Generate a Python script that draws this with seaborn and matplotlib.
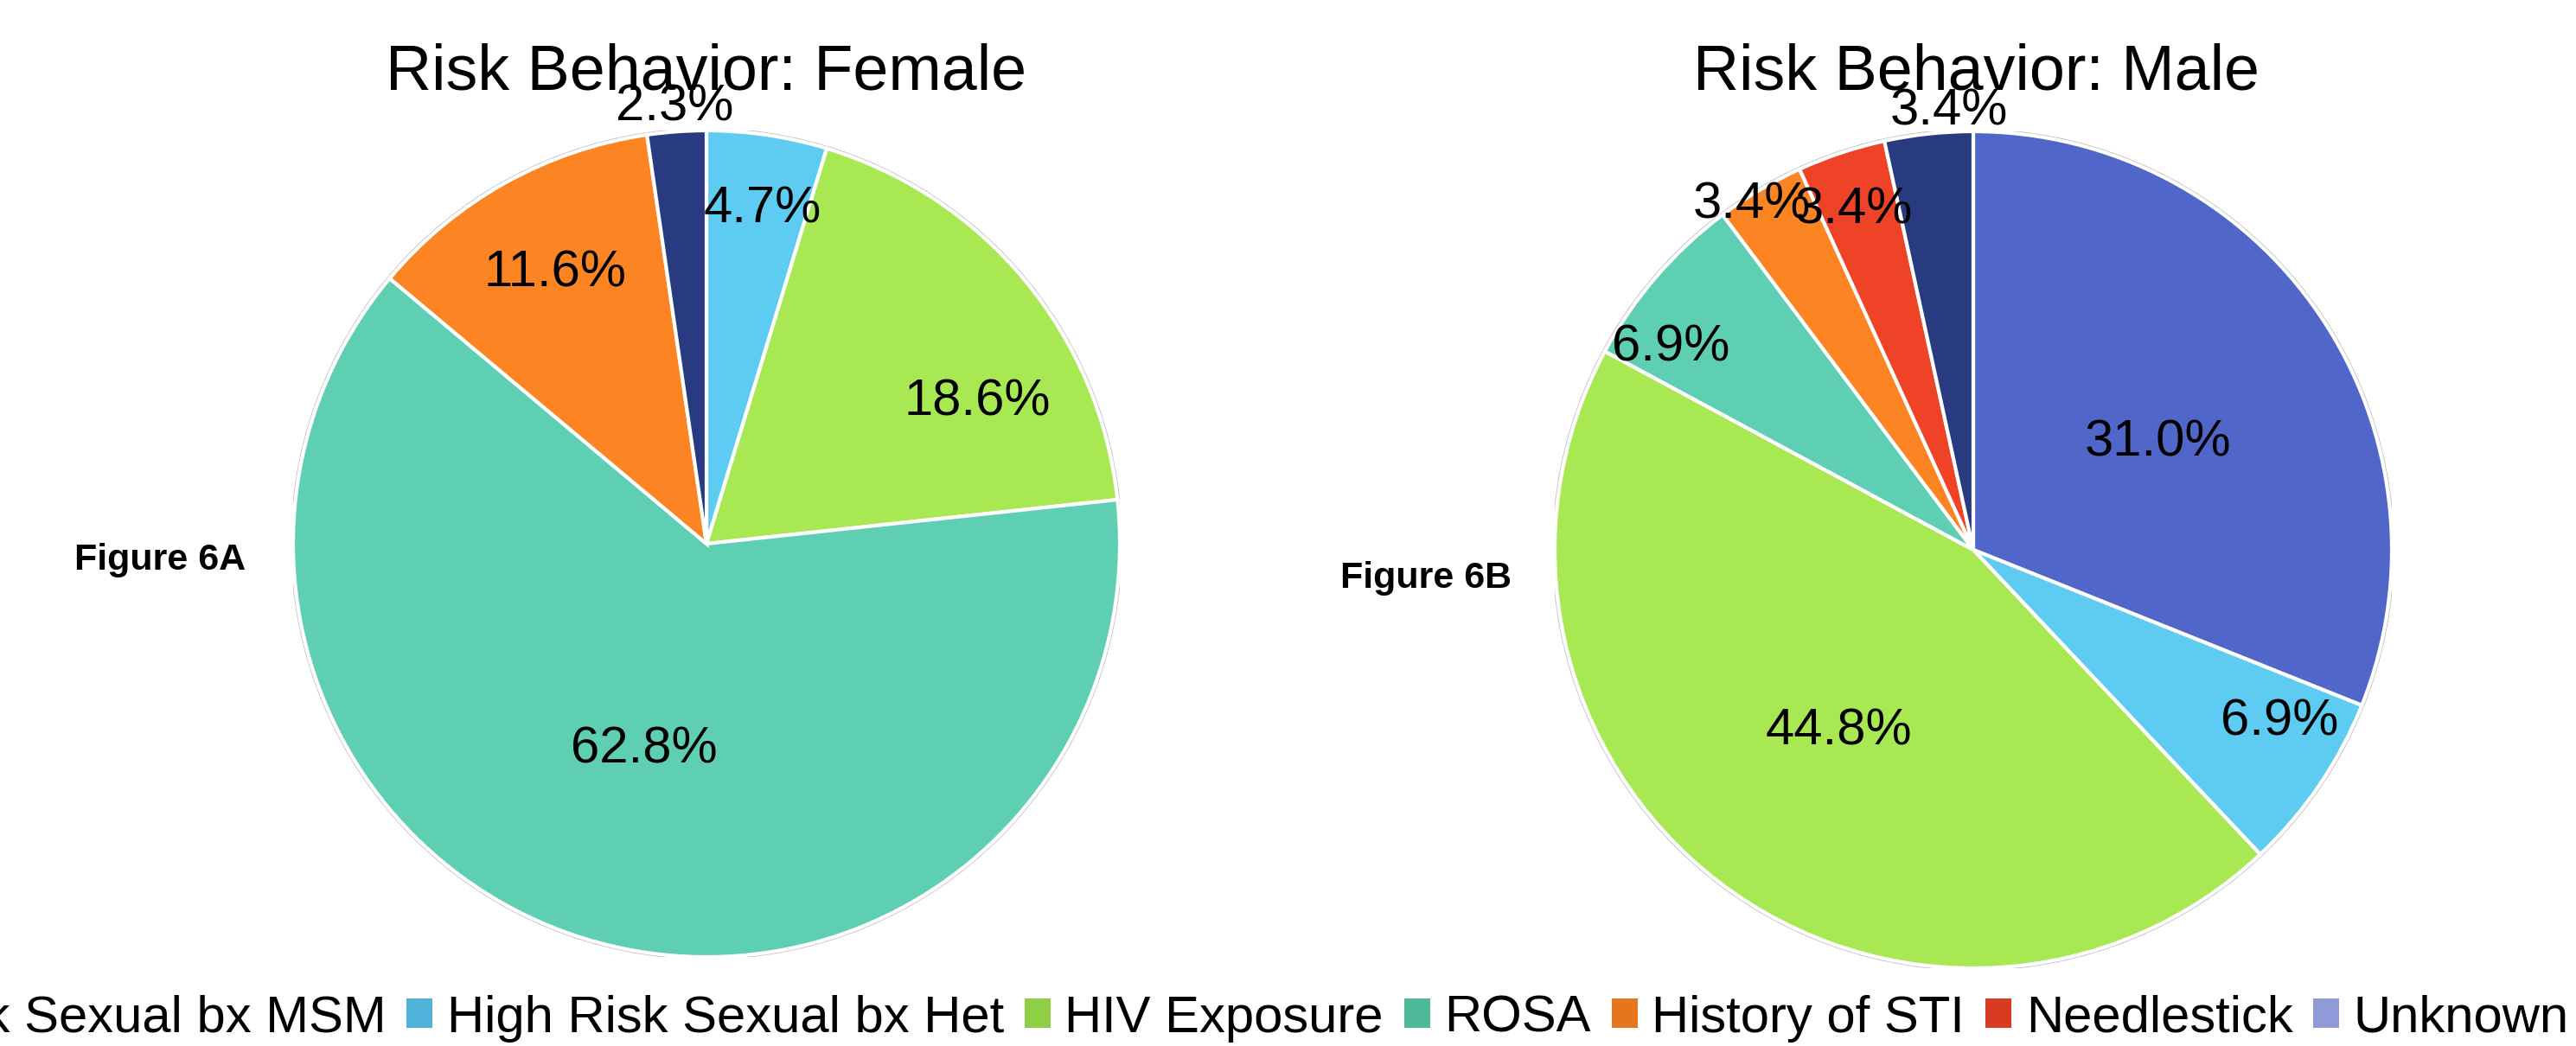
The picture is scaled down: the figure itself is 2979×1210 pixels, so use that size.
import numpy as np
import matplotlib
matplotlib.use("Agg")
import matplotlib.pyplot as plt
from matplotlib.patches import Patch, Circle
import seaborn as sns

sns.set_style("white")
plt.rcParams["font.family"] = ["Liberation Sans", "DejaVu Sans"]
plt.rcParams["text.color"] = "black"

categories = [
    "High Risk Sexual bx MSM",
    "High Risk Sexual bx Het",
    "HIV Exposure",
    "ROSA",
    "History of STI",
    "Needlestick",
    "Unknown",
]
legend_colors = ["#4a5fc0", "#4fb3d9", "#8fcf45", "#4db89a", "#e5761e", "#d93a22", "#8f9bd9"]

# female slices, clockwise from 12 o'clock
female_labels = ["High Risk Sexual bx Het", "HIV Exposure", "ROSA", "History of STI", "Other"]
female_values = [4.7, 18.6, 62.8, 11.6, 2.3]
female_colors = ["#5ecbf2", "#a8e953", "#5ecfb2", "#fd8423", "#283a80"]

# male slices, clockwise from 12 o'clock
male_labels = ["High Risk Sexual bx MSM", "High Risk Sexual bx Het", "HIV Exposure", "ROSA",
               "History of STI", "Needlestick", "Other"]
male_values = [31.0, 6.9, 44.8, 6.9, 3.4, 3.4, 3.4]
male_colors = ["#5066c8", "#5ecbf2", "#a8e953", "#5ecfb2", "#fd8423", "#ef4327", "#283a80"]

# label placement: (radius fraction, angle offset in degrees)
female_lpos = [(0.82, -1), (0.74, -12), (0.52, 0), (0.75, 0), (1.06, 0)]
male_lpos = [(0.51, -4), (0.84, 5), (0.54, 1), (0.87, 7), (0.98, 2), (0.86, 1), (1.05, -3)]

W, H = 2979, 1210
fig = plt.figure(figsize=(W / 100, H / 100), dpi=100)


def draw_pie(cx, cy, r, values, colors, lpos):
    ax = fig.add_axes([(cx - r) / W, (H - cy - r) / H, 2 * r / W, 2 * r / H])
    wedges, _ = ax.pie(values, colors=colors, startangle=90, counterclock=False,
                       wedgeprops=dict(edgecolor="white", linewidth=3))
    ax.add_patch(Circle((0, 0), 1.004, fill=False, edgecolor="#c4c4c4", lw=1.5, zorder=0))
    for w, v, (rf, off) in zip(wedges, values, lpos):
        ang = np.deg2rad((w.theta1 + w.theta2) / 2 + off)
        ax.text(rf * np.cos(ang), rf * np.sin(ang), f"{v:.1f}%", ha="center", va="center",
                fontsize=43, color="black")
    ax.set_xlim(-1, 1)
    ax.set_ylim(-1, 1)
    ax.axis("off")
    return ax


draw_pie(817, 629, 478, female_values, female_colors, female_lpos)
draw_pie(2282, 636, 484, male_values, male_colors, male_lpos)

fig.text(817 / W, 1 - 103 / H, "Risk Behavior: Female", ha="center", va="baseline", fontsize=53)
fig.text(2285 / W, 1 - 103 / H, "Risk Behavior: Male", ha="center", va="baseline", fontsize=53)
fig.text(86 / W, 1 - 648 / H, "Figure 6A", ha="left", va="center", fontsize=31, fontweight="bold")
fig.text(1550 / W, 1 - 669 / H, "Figure 6B", ha="left", va="center", fontsize=31, fontweight="bold")

handles = [Patch(facecolor=c, edgecolor="none") for c in legend_colors]
fig.legend(handles, categories, loc="center right", bbox_to_anchor=(2971 / W, 1 - 1178 / H),
           ncol=7, frameon=False, fontsize=43, handlelength=0.5, handleheight=0.5,
           handletextpad=0.28, columnspacing=0.4, borderpad=0, borderaxespad=0)

fig.savefig("out.png", dpi=100)
